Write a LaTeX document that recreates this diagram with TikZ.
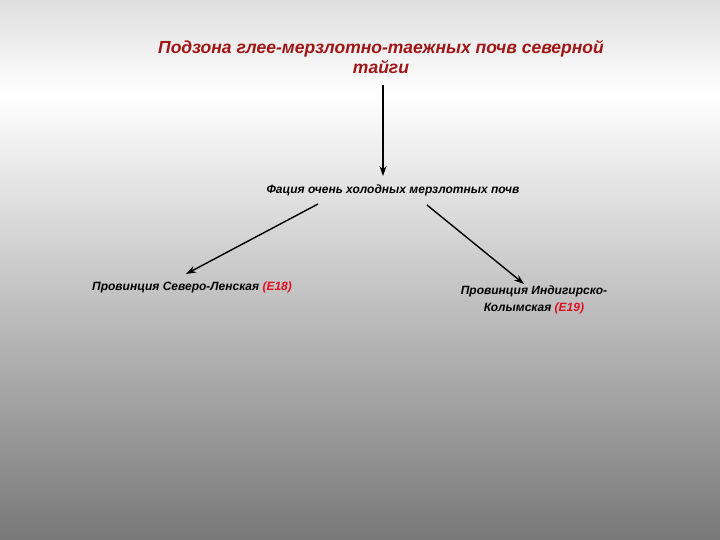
\documentclass[tikz,border=0pt]{standalone}
\usepackage{fontspec}
\setmainfont{Liberation Sans}
\tikzset{
  lbl/.style={font=\bfseries\itshape, text=black, inner sep=1pt, align=center},
  arr/.style={-{Stealth[length=10pt,width=7pt]}, line width=1.4pt, black}
}
\usetikzlibrary{arrows.meta}
\definecolor{ttl}{HTML}{A01515}
\definecolor{rd}{HTML}{E0101E}
\begin{document}
\begin{tikzpicture}[x=1pt,y=-1pt]
\useasboundingbox (0,0) rectangle (720,540);
\shade[top color=gray!25, bottom color=white] (0,0) rectangle (720,95);
\shade[top color=white, bottom color=black!53] (0,95) rectangle (720,540.5);
\node[lbl, text=ttl, font=\fontsize{17.5}{20.5}\selectfont\bfseries\itshape] (t) at (381,57) {Подзона глее-мерзлотно-таежных почв северной\\тайги};
\node[lbl, font=\fontsize{12}{14}\selectfont\bfseries\itshape] (f) at (393,190) {Фация очень холодных мерзлотных почв};
\node[lbl, font=\fontsize{12}{17}\selectfont\bfseries\itshape, anchor=west] (l) at (91,287) {Провинция Северо-Ленская \textcolor{rd}{(Е18)}};
\node[lbl, font=\fontsize{12}{17}\selectfont\bfseries\itshape] (r) at (534,300) {Провинция Индигирско-\\Колымская \textcolor{rd}{(Е19)}};
\coordinate (a1) at (383,85); \coordinate (a2) at (383,176);
\draw[arr] (a1) -- (a2);
\coordinate (b1) at (318,204); \coordinate (b2) at (186,274);
\draw[arr] (b1) -- (b2);
\coordinate (c1) at (427,205); \coordinate (c2) at (524,284);
\draw[arr] (c1) -- (c2);
\end{tikzpicture}
\end{document}
